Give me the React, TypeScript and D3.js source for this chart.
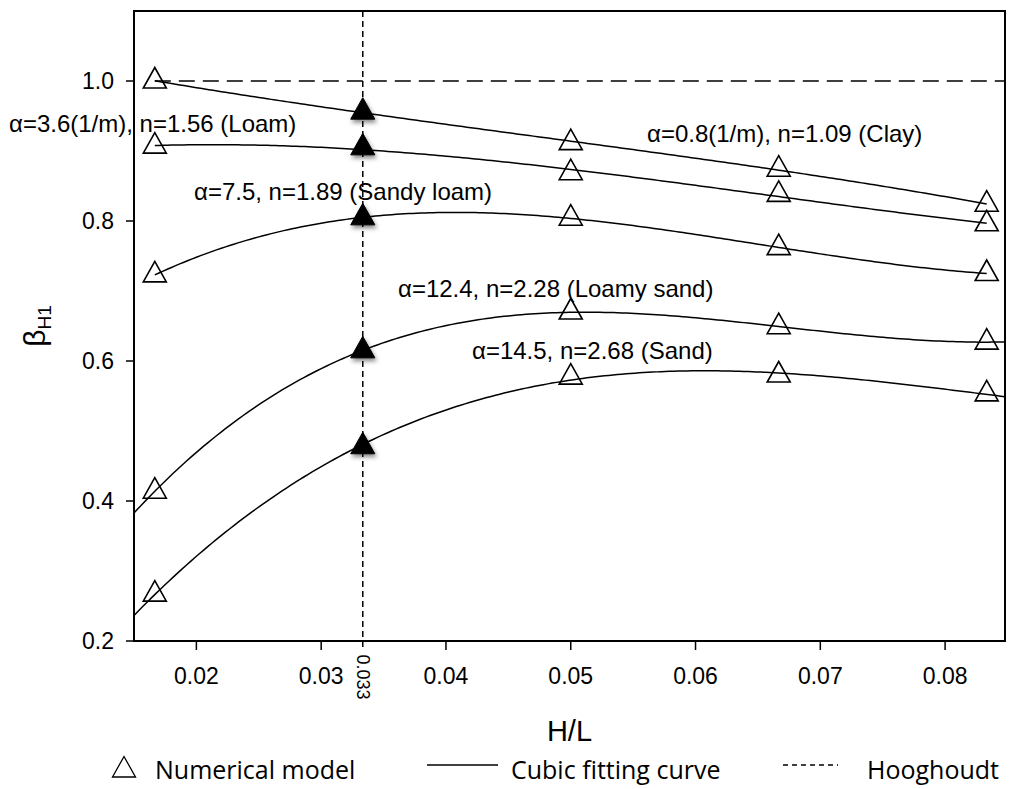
import React from 'react';
import * as d3 from 'd3';

// ---------- data ----------
const hlValues = [1 / 60, 1 / 30, 1 / 20, 1 / 15, 1 / 12];
const soilNames = ['Clay', 'Loam', 'Sandy loam', 'Loamy sand', 'Sand'];
const clay = [1.0, 0.956, 0.912, 0.874, 0.824];
const loam = [0.907, 0.905, 0.869, 0.838, 0.796];
const sandyLoam = [0.723, 0.805, 0.804, 0.762, 0.725];
const loamySand = [0.414, 0.615, 0.67, 0.649, 0.627];
const sand = [0.267, 0.478, 0.577, 0.58, 0.553];
const seriesValues = [clay, loam, sandyLoam, loamySand, sand];
const filledIndex = 1; // H/L = 0.033 point drawn filled
const curveFrom = [1 / 60, 1 / 60, 1 / 60, 0.015, 0.015];
const curveTo = [1 / 12, 1 / 12, 1 / 12, 0.0848, 0.0848];
const soilLabels = [
  'α=0.8(1/m), n=1.09 (Clay)',
  'α=3.6(1/m), n=1.56 (Loam)',
  'α=7.5, n=1.89 (Sandy loam)',
  'α=12.4, n=2.28 (Loamy sand)',
  'α=14.5, n=2.68 (Sand)',
];
const xTicks = [0.02, 0.03, 0.04, 0.05, 0.06, 0.07, 0.08];
const yTicks = [0.2, 0.4, 0.6, 0.8, 1.0];
const xDomain = [0.015, 0.0848];
const yDomain = [0.2, 1.1];
const hooghoudtValue = 1.0;
const hooghoudtFrom = 1 / 60;
const markedHL = 1 / 30;
const markedLabel = '0.033';
const legendLabels = ['Numerical model', 'Cubic fitting curve', 'Hooghoudt'];

// ---------- layout (pixels) ----------
const W = 1011;
const H = 789;
const plot = { left: 134, right: 1005, top: 11, bottom: 641 };
const labelPos = [
  { x: 647, y: 142 },
  { x: 9, y: 132 },
  { x: 194, y: 200 },
  { x: 398, y: 297 },
  { x: 472, y: 359 },
];

function cubicFit(xs: number[], ys: number[]) {
  const t = xs.map((x) => (x - 0.05) * 60);
  const A: number[][] = [];
  const b: number[] = [];
  for (let i = 0; i < 4; i++) {
    A.push([]);
    for (let j = 0; j < 4; j++) A[i].push(d3.sum(t, (u) => Math.pow(u, i + j)));
    b.push(d3.sum(t.map((u, k) => ys[k] * Math.pow(u, i))));
  }
  for (let c = 0; c < 4; c++) {
    let p = c;
    for (let r = c + 1; r < 4; r++) if (Math.abs(A[r][c]) > Math.abs(A[p][c])) p = r;
    [A[c], A[p]] = [A[p], A[c]];
    [b[c], b[p]] = [b[p], b[c]];
    for (let r = c + 1; r < 4; r++) {
      const f = A[r][c] / A[c][c];
      for (let k = c; k < 4; k++) A[r][k] -= f * A[c][k];
      b[r] -= f * b[c];
    }
  }
  const coef = [0, 0, 0, 0];
  for (let r = 3; r >= 0; r--) {
    let s = b[r];
    for (let k = r + 1; k < 4; k++) s -= A[r][k] * coef[k];
    coef[r] = s / A[r][r];
  }
  return (x: number) => {
    const u = (x - 0.05) * 60;
    return coef[0] + coef[1] * u + coef[2] * u * u + coef[3] * u * u * u;
  };
}

function triPath(cx: number, cy: number, s = 1) {
  const up = 13.5 * s;
  const dn = 7 * s;
  const hw = 11.5 * s;
  return `M${cx},${cy - up}L${cx + hw},${cy + dn}L${cx - hw},${cy + dn}Z`;
}

export default function App() {
  const x = d3.scaleLinear().domain(xDomain).range([plot.left, plot.right]);
  const y = d3.scaleLinear().domain(yDomain).range([plot.bottom, plot.top]);
  const font = 'Arial, "Liberation Sans", sans-serif';
  const legendFont = '"Open Sans", "Noto Sans", sans-serif';

  const curves = seriesValues.map((vals, i) => {
    const f = cubicFit(hlValues, vals);
    const n = 200;
    const pts = d3.range(n + 1).map((k) => {
      const xv = curveFrom[i] + ((curveTo[i] - curveFrom[i]) * k) / n;
      return [xv, f(xv)] as [number, number];
    });
    const line = d3
      .line<[number, number]>()
      .x((d) => x(d[0]))
      .y((d) => y(d[1]));
    return line(pts) || '';
  });

  return (
    <svg
      width={W}
      height={H}
      style={{ position: 'absolute', left: 0, top: 0, background: '#fff' }}
      fontFamily={font}
    >
      <defs>
        <clipPath id="plotclip">
          <rect x={plot.left} y={plot.top} width={plot.right - plot.left} height={plot.bottom - plot.top} />
        </clipPath>
        <filter id="shadow" x="-50%" y="-50%" width="200%" height="200%">
          <feDropShadow dx="1.5" dy="3" stdDeviation="2" floodColor="#000" floodOpacity="0.45" />
        </filter>
      </defs>

      {/* Hooghoudt reference */}
      <line
        x1={x(hooghoudtFrom)}
        x2={plot.right}
        y1={y(hooghoudtValue)}
        y2={y(hooghoudtValue)}
        stroke="#000"
        strokeWidth={1.5}
        strokeDasharray="16 8"
      />
      <line
        x1={x(markedHL)}
        x2={x(markedHL)}
        y1={plot.top}
        y2={plot.bottom + 9}
        stroke="#000"
        strokeWidth={1.5}
        strokeDasharray="6 4"
      />

      {/* curves */}
      <g clipPath="url(#plotclip)">
        {curves.map((d, i) => (
          <path key={soilNames[i]} d={d} fill="none" stroke="#000" strokeWidth={1.5} />
        ))}
      </g>

      {/* markers */}
      {seriesValues.map((vals, i) =>
        vals.map((v, k) =>
          k === filledIndex ? (
            <path key={`${i}-${k}`} d={triPath(x(hlValues[k]), y(v), 1.05)} fill="#000" stroke="#000" strokeWidth={1} filter="url(#shadow)" />
          ) : (
            <path key={`${i}-${k}`} d={triPath(x(hlValues[k]), y(v))} fill="none" stroke="#000" strokeWidth={1.6} />
          )
        )
      )}

      {/* frame */}
      <rect
        x={plot.left}
        y={plot.top}
        width={plot.right - plot.left}
        height={plot.bottom - plot.top}
        fill="none"
        stroke="#000"
        strokeWidth={2}
      />

      {/* y ticks */}
      {yTicks.map((t) => (
        <g key={`y${t}`}>
          <line x1={plot.left - 8} x2={plot.left} y1={y(t)} y2={y(t)} stroke="#000" strokeWidth={1.5} />
          <text x={plot.left - 20} y={y(t)} dy="0.35em" textAnchor="end" fontSize={23}>
            {t.toFixed(1)}
          </text>
        </g>
      ))}

      {/* x ticks */}
      {xTicks.map((t) => (
        <g key={`x${t}`}>
          <line x1={x(t)} x2={x(t)} y1={plot.bottom} y2={plot.bottom + 9} stroke="#000" strokeWidth={1.5} />
          <text x={x(t)} y={684} textAnchor="middle" fontSize={23}>
            {t.toFixed(2)}
          </text>
        </g>
      ))}
      <text
        transform={`translate(${x(markedHL)},${677}) rotate(90)`}
        textAnchor="middle"
        dominantBaseline="central"
        fontSize={18}
      >
        {markedLabel}
      </text>

      {/* axis titles */}
      <text x={(plot.left + plot.right) / 2} y={741} textAnchor="middle" fontSize={29}>
        H/L
      </text>
      <text transform={`translate(45,326) rotate(-90)`} textAnchor="middle" fontSize={30}>
        β<tspan fontSize={19} dy={6}>H1</tspan>
      </text>

      {/* annotations */}
      {soilLabels.map((s, i) => (
        <text key={s} x={labelPos[i].x} y={labelPos[i].y} fontSize={24}>
          {s}
        </text>
      ))}

      {/* legend */}
      <path d={triPath(124, 770)} fill="none" stroke="#000" strokeWidth={1.3} />
      <text x={155} y={779} fontSize={25} fontFamily={legendFont}>
        {legendLabels[0]}
      </text>
      <line x1={427} x2={498} y1={765} y2={765} stroke="#000" strokeWidth={1.5} />
      <text x={511} y={779} fontSize={25} fontFamily={legendFont}>
        {legendLabels[1]}
      </text>
      <line x1={783} x2={838} y1={765} y2={765} stroke="#000" strokeWidth={1.5} strokeDasharray="5 4" />
      <text x={867} y={779} fontSize={25} fontFamily={legendFont}>
        {legendLabels[2]}
      </text>
    </svg>
  );
}
